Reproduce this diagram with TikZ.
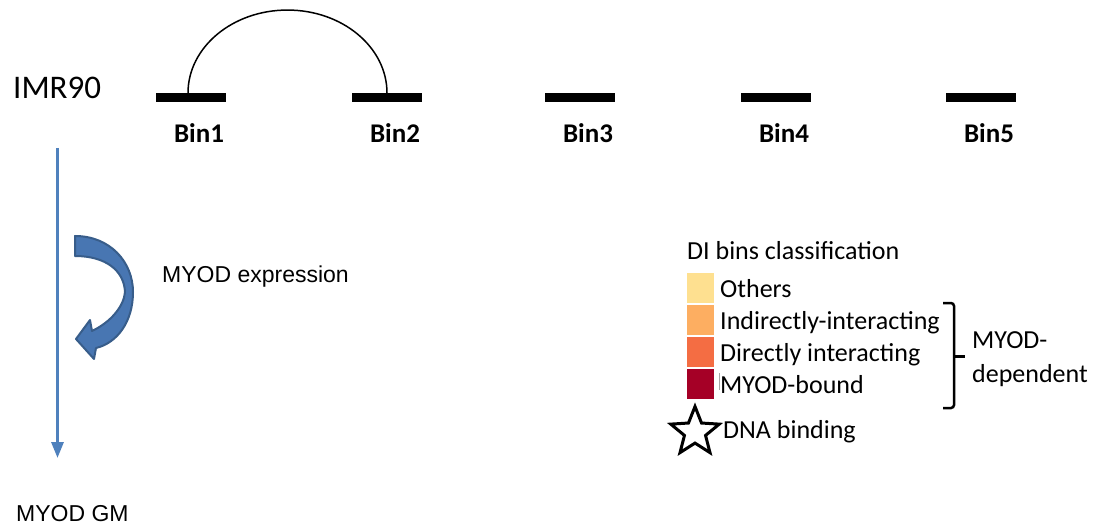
\documentclass[tikz,border=0pt]{standalone}
\usepackage{fontspec}
\setmainfont{Carlito}
\newfontfamily\arialf{Liberation Sans}
\usetikzlibrary{arrows.meta,shapes.geometric}
\definecolor{blueline}{RGB}{79,129,189}
\definecolor{arrfill}{RGB}{72,118,178}
\definecolor{arrdraw}{RGB}{56,93,138}
\definecolor{cOthers}{RGB}{254,224,144}
\definecolor{cIndir}{RGB}{253,174,97}
\definecolor{cDir}{RGB}{244,109,67}
\definecolor{cBound}{RGB}{165,0,38}
\begin{document}
\begin{tikzpicture}[x=1pt,y=-1pt,
  lbl/.style={inner sep=0pt,anchor=base west},
  binbar/.style={fill=black,minimum width=70pt,minimum height=8.5pt,inner sep=0pt},
  binlbl/.style={inner sep=0pt,anchor=base,font=\fontsize{27}{30}\selectfont\bfseries},
  swatch/.style={minimum width=27pt,minimum height=30pt,inner sep=0pt,anchor=north west},
  legtxt/.style={lbl,font=\fontsize{26}{30}\selectfont},
  arialtxt/.style={lbl,font=\arialf\fontsize{23}{26}\selectfont}
  ]
\fill[white] (0,0) rectangle (1097,529);
\useasboundingbox (0,0) rectangle (1097,529);

% IMR90 and bins
\node[lbl,font=\fontsize{33}{36}\selectfont] (imr) at (13,99) {IMR90};
\node[binbar] (b1) at (191,97.5) {};
\node[binbar] (b2) at (387,97.5) {};
\node[binbar] (b3) at (580,97.5) {};
\node[binbar] (b4) at (776,97.5) {};
\node[binbar] (b5) at (981,97.5) {};
\node[binlbl] (l1) at (199,143) {Bin1};
\node[binlbl] (l2) at (395,143) {Bin2};
\node[binlbl] (l3) at (588,143) {Bin3};
\node[binlbl] (l4) at (784,143) {Bin4};
\node[binlbl] (l5) at (989,143) {Bin5};
\draw[line width=1.5pt] ([xshift=-3pt]b1.north) arc[start angle=180,end angle=0,x radius=99.5pt,y radius=83pt];

% vertical arrow
\coordinate (vtop) at (57.5,148);
\coordinate (vbot) at (57.5,458);
\draw[blueline,line width=3pt,-{Triangle[width=12pt,length=16pt]}] (vtop) -- (vbot);

% curved block arrow
\filldraw[fill=arrfill,draw=arrdraw,line width=2pt,line join=round]
  (75,236) .. controls (110,236) and (133,262) .. (133,292)
  .. controls (133,322) and (117,343) .. (96,348)
  -- (94,359) -- (76,339) -- (90,320) -- (92,331)
  .. controls (111,322) and (124,306) .. (125,292)
  .. controls (124,270) and (105,256) .. (75,256) -- cycle;

\node[arialtxt] (expr) at (162,283) {MYOD expression};
\node[arialtxt] (gm) at (16,521.5) {MYOD GM};

% legend
\node[legtxt] (dititle) at (687,260) {DI bins classification};
\node[swatch,fill=cOthers] (s1) at (687,273) {};
\node[swatch,fill=cIndir] (s2) at (687,305) {};
\node[swatch,fill=cDir] (s3) at (687,337) {};
\node[swatch,fill=cBound] (s4) at (687,369) {};
\node[legtxt] (t1) at (720,297) {Others};
\node[legtxt] (t2) at (720,329) {Indirectly-interacting};
\node[legtxt] (t3) at (720,361) {Directly interacting};
\node[legtxt] (t4) at (720,393) {MYOD-bound};
\draw[gray!70,line width=0.6pt] (719,373) -- (719,390);

\draw[line width=2.5pt,rounded corners=3pt] (943,303) -- (954,303) -- (954,408) -- (943,408);
\draw[line width=2.5pt] (954,356.5) -- (965,356.5);
\node[legtxt] (dep1) at (972,348) {MYOD-};
\node[legtxt] (dep2) at (972,382) {dependent};

\node[star,star points=5,star point ratio=2.3,draw,line width=3pt,minimum size=51pt,inner sep=0pt] (star) at (695,432) {};
\node[legtxt] (dna) at (723,438) {DNA binding};
\end{tikzpicture}
\end{document}
